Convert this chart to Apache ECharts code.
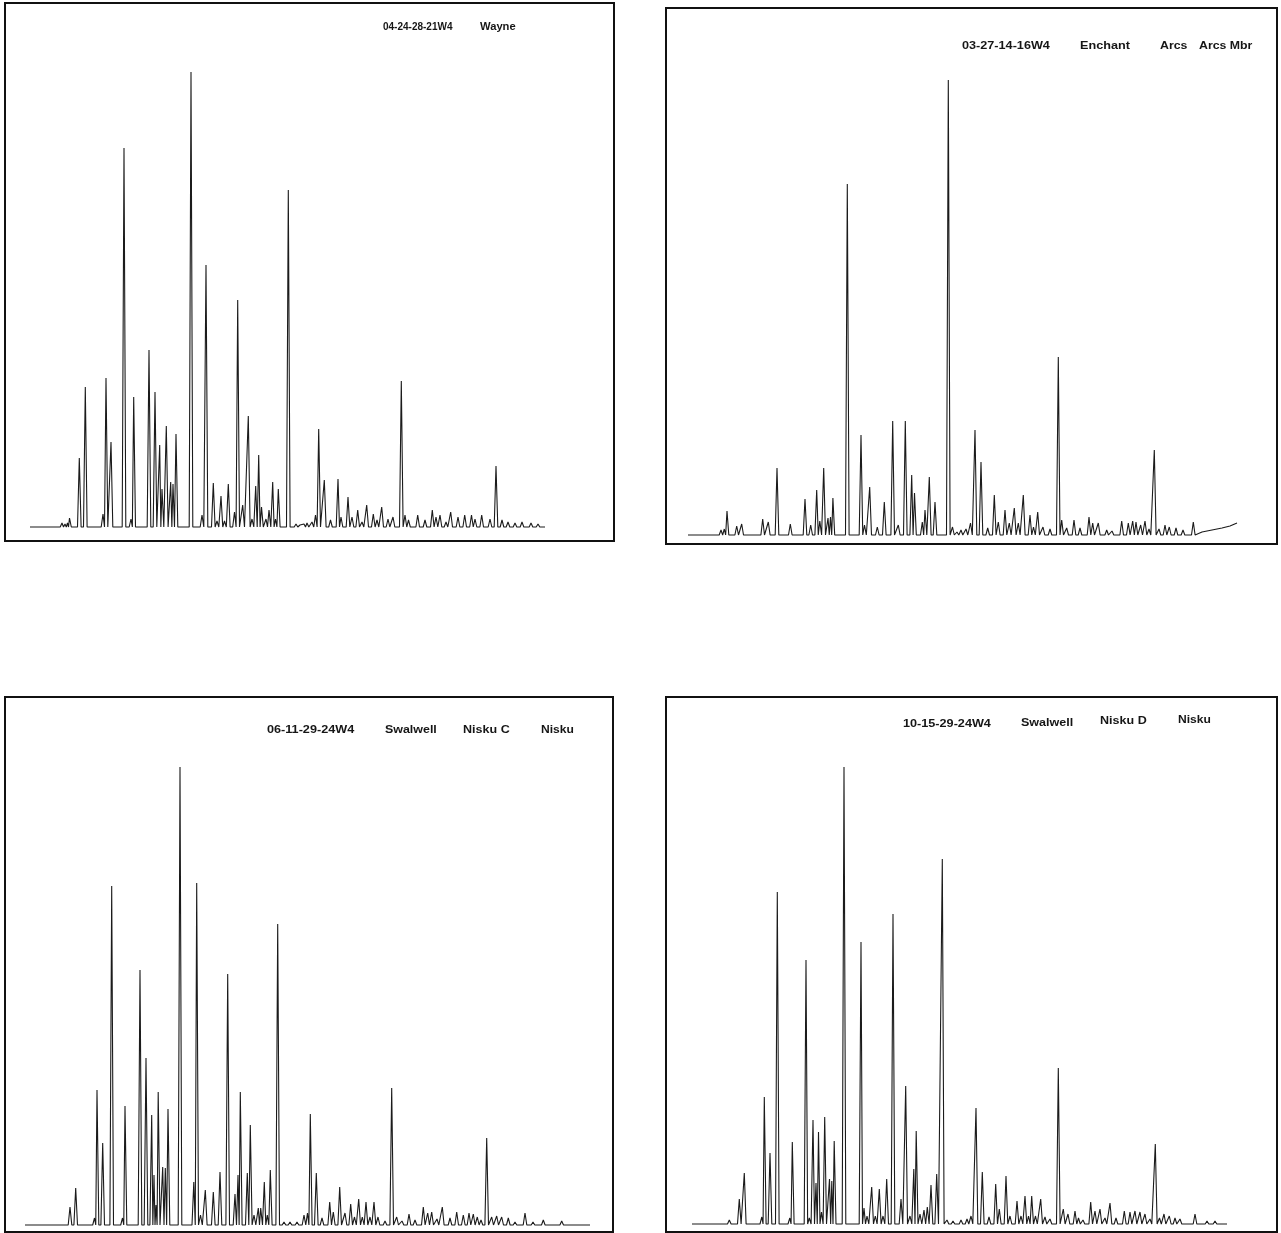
<!DOCTYPE html>
<html>
<head>
<meta charset="utf-8">
<script src="https://cdn.jsdelivr.net/npm/echarts@6/dist/echarts.min.js"></script>
<style>
html,body{margin:0;padding:0;background:#fff;}
#c{width:1281px;height:1233px;}
</style>
</head>
<body>
<div id="c"></div>
<script>
// ---- Titles (well / field / unit) ----
const labels1 = ['04-24-28-21W4', 'Wayne'];
const labels2 = ['03-27-14-16W4', 'Enchant', 'Arcs', 'Arcs Mbr'];
const labels3 = ['06-11-29-24W4', 'Swalwell', 'Nisku C', 'Nisku'];
const labels4 = ['10-15-29-24W4', 'Swalwell', 'Nisku D', 'Nisku'];

// ---- Trace extents [start, end] (retention axis units) ----
const range1 = [30, 545];
const range2 = [688, 1237];
const range3 = [25, 590];
const range4 = [692, 1227];

// ---- Peaks: [retention, height] ----
const peaks1 = [[62,4],[65,3],[67.5,4],[69.5,9],[79.3,69],[85.3,140],[103,13],[106,149],[111,85],[124,379],[131,8],[133.7,130],[149,177],[155,135],[159.7,82],[162,38],[166.3,101],[170.7,45],[173,43],[176,93],[191,455],[202,12],[206,262],[213.3,44],[217,6],[221,31],[224.5,6],[228.3,43],[234.5,15],[237.7,227],[242.7,22],[248.3,111],[252,8],[255.7,41],[258.7,72],[261.5,20],[266,8],[269,17],[272.7,45],[275.5,8],[278.3,38],[288.3,337],[296,3],[300,2],[304,3],[307,4],[312,5],[315.5,12],[318.7,98],[324.3,47],[330.5,7],[338,48],[341,10],[348,30],[352,10],[357.7,17],[362,5],[366.7,22],[373.3,13],[377,7],[381.7,20],[388,8],[393,10],[401.3,146],[405,12],[408.5,7],[417.7,12],[425,7],[432.3,17],[436,10],[440,12],[446,5],[450.7,15],[458,10],[464.7,12],[471.5,12],[475,8],[481.7,12],[490,8],[496,61],[502,7],[508,5],[515,4],[522,5],[531,4],[538,3]];

const peaks2 = [[721,5],[724.3,6],[727,24],[736.7,9],[741.7,11],[762.7,16],[768.3,13],[777,67],[790.3,11],[805,36],[810.7,10],[816.7,45],[819.8,14],[823.7,67],[828,17],[830.5,18],[832.9,37],[847.3,351],[861,100],[864.5,10],[869.7,48],[877.3,8],[884.3,33],[892.7,114],[898.3,10],[905.3,114],[911.7,60],[914.5,42],[922.3,13],[925,25],[929.3,58],[935,33],[948.3,455],[952.5,8],[957,3],[961,5],[966,6],[970.5,12],[975,105],[981,73],[987.7,7],[994.3,40],[998.3,13],[1005,25],[1009.3,12],[1014.3,27],[1018.3,12],[1023.3,40],[1030,20],[1033.5,8],[1037.7,23],[1043,8],[1050,6],[1058.3,178],[1061.7,15],[1066.7,7],[1074,15],[1080,7],[1089,18],[1092.7,12],[1098.3,12],[1106.7,5],[1112,4],[1121.7,14],[1128.3,12],[1132.7,14],[1136,13],[1140.7,10],[1145,14],[1149,6],[1154.3,85],[1159,6],[1165,10],[1169.3,8],[1176,7],[1183,5],[1193.3,13]];
const tail2 = [[1202,3],[1212,5],[1222,7],[1230,9],[1237,12]];

const peaks3 = [[70,18],[75.7,37],[85,2],[94.5,7],[97,135],[102.7,82],[111.7,339],[122.5,7],[125,119],[140,255],[146,167],[151.7,110],[154,50],[156,20],[158.2,133],[162.7,58],[165.3,57],[168,116],[180,458],[193.8,43],[196.7,342],[200.5,10],[205.3,35],[213.3,33],[220,53],[227.7,251],[235,31],[238,50],[240.3,133],[247.3,52],[250.3,100],[254,10],[258.3,17],[260.7,17],[264.3,43],[267.3,10],[270.3,55],[277.7,301],[284,3],[290,3],[297,3],[304,10],[307.5,12],[310.3,111],[316.3,52],[322,7],[329.7,23],[333.3,13],[339.7,38],[345,12],[350.7,21],[354.5,8],[358.7,26],[362.3,8],[366,23],[370,8],[374,23],[378,8],[385,4],[391.7,137],[396.7,8],[402,4],[409,11],[415,5],[423.3,18],[427.7,12],[431.7,13],[437,6],[442.3,18],[450,7],[456.7,13],[463.3,10],[469,12],[473.3,11],[477.3,8],[481,5],[486.7,87],[491.7,8],[496.7,9],[501.7,8],[508.3,7],[515,3],[525,12],[533,3],[543.3,5],[552,2],[561.7,4],[570,1]];

const peaks4 = [[729.3,4],[739.3,25],[744.3,51],[754,2],[761.8,7],[764.3,127],[770,71],[777.3,332],[789.8,6],[792.3,82],[806,264],[809.3,6],[813,104],[816,41],[818.5,92],[821.5,12],[824.7,107],[829.5,45],[831.8,43],[834.2,83],[844,457],[861,282],[864,16],[867,8],[871.7,37],[875.3,8],[879.3,35],[883,8],[886.7,45],[893,310],[901,25],[905.7,138],[910,8],[913.8,55],[916.2,93],[920,10],[924,14],[927.3,17],[931,39],[936.7,50],[942.3,365],[947,4],[953,3],[961,4],[967,5],[971,8],[976,116],[982.3,52],[989,7],[995.7,40],[999.3,15],[1006,48],[1010,8],[1017,23],[1021,8],[1025,28],[1028.5,8],[1031.7,28],[1035.5,8],[1040.7,25],[1045,7],[1050,5],[1058.3,156],[1063.3,15],[1068,10],[1075,13],[1078.5,6],[1083,4],[1090.7,22],[1095,13],[1100,15],[1105,6],[1110,21],[1116,6],[1124.3,13],[1130,12],[1135,13],[1140,12],[1145,10],[1150,5],[1155.3,80],[1159.5,6],[1164,10],[1169.3,8],[1175,6],[1180,5],[1195,10],[1207,3],[1215,3]];

// ---- build a trace (line) from the peak list ----
function buildTrace(peaks, range, tail) {
  const w = 1.8;
  const pts = [[range[0], 0]];
  for (let i = 0; i < peaks.length; i++) {
    const p = peaks[i];
    const prev = peaks[i - 1];
    if (!prev || p[0] - prev[0] > 2 * w) {
      pts.push([p[0] - w, 0]);
    }
    pts.push([p[0], p[1]]);
    const next = peaks[i + 1];
    if (!next || next[0] - p[0] > 2 * w) {
      pts.push([p[0] + w, 0]);
    } else {
      pts.push([(p[0] + next[0]) / 2, 0]);
    }
  }
  if (tail) tail.forEach(t => pts.push(t)); else pts.push([range[1], 0]);
  return pts;
}

// panel boxes (layout only)
const boxes = [
  {left: 5, top: 3, width: 609, height: 538, base: 527},
  {left: 666, top: 8, width: 611, height: 536, base: 535},
  {left: 5, top: 697, width: 608, height: 535, base: 1225},
  {left: 666, top: 697, width: 611, height: 535, base: 1224}
];
const traces = [
  buildTrace(peaks1, range1),
  buildTrace(peaks2, range2, tail2),
  buildTrace(peaks3, range3),
  buildTrace(peaks4, range4)
];

const grid = [], xAxis = [], yAxis = [], series = [];
boxes.forEach((b, i) => {
  grid.push({left: b.left, top: b.top, width: b.width, height: b.height,
    show: true, borderColor: '#111', borderWidth: 2, backgroundColor: 'transparent'});
  xAxis.push({type: 'value', gridIndex: i, min: b.left, max: b.left + b.width, show: false,
    splitLine: {show: false}});
  yAxis.push({type: 'value', gridIndex: i, min: b.base - (b.top + b.height),
    max: b.base - b.top, show: false, splitLine: {show: false}});
  series.push({type: 'line', xAxisIndex: i, yAxisIndex: i, data: traces[i],
    showSymbol: false, symbol: 'none', silent: true, animation: false,
    lineStyle: {color: '#1b1b1b', width: 1.1}});
});

// [text, x, centerY, fontSize, horizontal stretch]
const titleDefs = [
  [labels1[0], 383, 27, 10, 1.0], [labels1[1], 480, 27, 10, 1.12],
  [labels2[0], 962, 46, 11, 1.15], [labels2[1], 1080, 46, 11, 1.15], [labels2[2], 1160, 46, 11, 1.12], [labels2[3], 1199, 46, 11, 1.12],
  [labels3[0], 267, 730, 11, 1.15], [labels3[1], 385, 730, 11, 1.13], [labels3[2], 463, 730, 11, 1.14], [labels3[3], 541, 730, 11, 1.1],
  [labels4[0], 903, 724, 11, 1.15], [labels4[1], 1021, 723, 11, 1.14], [labels4[2], 1100, 721, 11, 1.14], [labels4[3], 1178, 720, 11, 1.1]
];
const graphic = titleDefs.map(t => ({
  type: 'text', x: t[1], y: t[2], scaleX: t[4], silent: true,
  style: {text: t[0], fill: '#161616', fontSize: t[3], fontWeight: 'bold',
    fontFamily: 'Liberation Sans, Arial, sans-serif', textAlign: 'left', textVerticalAlign: 'middle', verticalAlign: 'middle'}
}));

const chart = echarts.init(document.getElementById('c'), null, {renderer: 'canvas'});
chart.setOption({
  backgroundColor: '#ffffff',
  animation: false,
  grid: grid,
  xAxis: xAxis,
  yAxis: yAxis,
  series: series,
  graphic: graphic
});
</script>
</body>
</html>
